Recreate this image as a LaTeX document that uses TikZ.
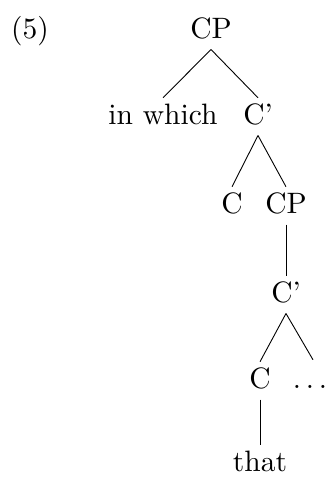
\documentclass[tikz,border=0pt]{standalone}
\begin{document}
\begin{tikzpicture}[x=1pt,y=-1pt,
  lab/.style={anchor=base,scale=2.95,inner sep=1.7pt,text height=7pt,text depth=2pt},
  edge/.style={line width=0.9pt}]
\useasboundingbox (0,0) rectangle (326,477);
\node[lab] (ex) at (30,38) {(5)};
\node[lab] (cp1) at (211,38) {CP};
\node[lab] (wh) at (163,124) {in which};
\node[lab] (cb1) at (258,124) {C'};
\node[lab] (c1) at (232,213) {C};
\node[lab] (cp2) at (286,213) {CP};
\node[lab] (cb2) at (286,302) {C'};
\node[lab] (c2) at (260,388) {C};
\node[lab,inner sep=0pt] (dots) at (310,388) {$\ldots$};
\node[lab] (that) at (260,471) {that};
\draw[edge] (cp1.south) -- (wh.north);
\draw[edge] (cp1.south) -- (cb1.north);
\draw[edge] (cb1.south) -- (c1.north);
\draw[edge] (cb1.south) -- (cp2.north);
\draw[edge] (cp2.south) -- (cb2.north);
\draw[edge] (cb2.south) -- (c2.north);
\draw[edge] (cb2.south) -- ([xshift=3pt,yshift=7pt]dots.north);
\draw[edge] (c2.south) -- (that.north);
\end{tikzpicture}
\end{document}
